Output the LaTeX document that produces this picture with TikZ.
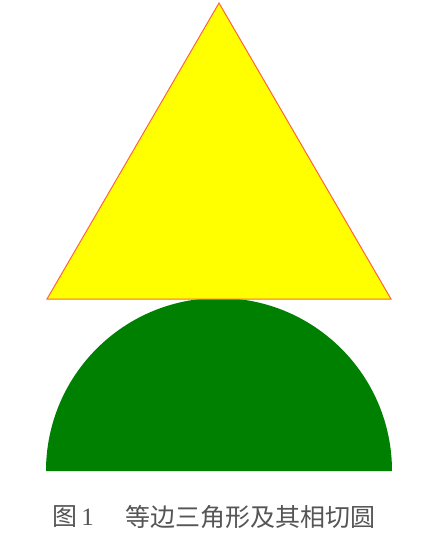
\documentclass[tikz,border=0pt]{standalone}
\usepackage{fontspec}
\setmainfont{Liberation Serif}
\newfontfamily\cjk{Noto Sans CJK SC}
\begin{document}
\begin{tikzpicture}[x=1pt,y=-1pt,
  tri/.style={fill={rgb,255:red,255;green,255;blue,0}, draw={rgb,255:red,255;green,100;blue,60}, line width=1pt, line join=miter},
  half/.style={fill={rgb,255:red,0;green,128;blue,0}},
  captext/.style={text={rgb,255:red,85;green,85;blue,85}, font=\cjk\fontsize{25}{28}\selectfont, inner sep=0pt}]
\useasboundingbox (0,0) rectangle (424,547);
\fill[half] (46,471) arc[start angle=180, end angle=360, radius=173] -- cycle;
\draw[tri] (219,3) -- (391,299) -- (47,299) -- cycle;
\node[captext, anchor=west] (fig) at (52,517) {图\,\rmfamily 1};
\node[captext, anchor=west] (lab) at (125,517) {等边三角形及其相切圆};
\end{tikzpicture}
\end{document}
